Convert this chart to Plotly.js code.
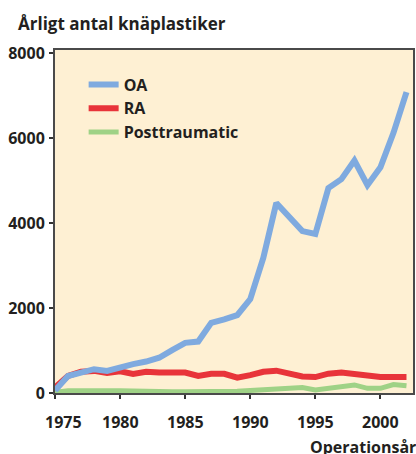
<!DOCTYPE html>
<html>
<head>
<meta charset="utf-8">
<script src="https://cdn.plot.ly/plotly-3.0.1.min.js"></script>
<style>html,body{margin:0;padding:0;background:#fff;}#chart{width:416px;height:454px;}</style>
</head>
<body>
<div id="chart"></div>
<script>
var years = [1975,1976,1977,1978,1979,1980,1981,1982,1983,1984,1985,1986,1987,1988,1989,1990,1991,1992,1993,1994,1995,1996,1997,1998,1999,2000,2001,2002];
var oaValues = [60,400,480,560,520,610,680,740,830,1010,1180,1210,1650,1730,1830,2210,3180,4470,4150,3810,3740,4820,5030,5470,4890,5310,6120,7080];
var raValues = [130,400,500,520,470,510,450,500,480,480,480,400,450,450,360,420,500,525,440,390,375,455,480,450,390,375,375,375];
var ptValues = [20,50,50,40,50,50,40,30,30,30,30,30,50,40,40,60,80,90,110,130,70,120,150,190,110,110,200,170];
var seriesNames = ['OA','RA','Posttraumatic'];
var xTickVals = [1975,1980,1985,1990,1995,2000];
var xTickText = ['1975','1980','1985','1990','1995','2000'];
var yTickVals = [0,2000,4000,6000,8000];
var chartTitle = 'Årligt antal knäplastiker';
var xTitle = 'Operationsår';

var xRange = [1975, 2002.5];
var yRange = [0, 8070];

var traces = [
  {x: years, y: ptValues, name: seriesNames[2], mode: 'lines', line: {color: '#9FD286', width: 5}, legendgroup: 'c'},
  {x: years, y: raValues, name: seriesNames[1], mode: 'lines', line: {color: '#E8343A', width: 6}, legendgroup: 'b'},
  {x: years, y: oaValues, name: seriesNames[0], mode: 'lines', line: {color: '#7FAADF', width: 6}, legendgroup: 'a', xaxis: 'x', yaxis: 'y2'}
];

var tickFont = {size: 16, weight: 700, color: '#231F20'};

var xLabelAnnotations = xTickVals.map(function (v, i) {
  return {text: xTickText[i], x: v, xref: 'x', y: 0, yref: 'paper', yanchor: 'middle', xanchor: 'center',
          yshift: -29, xshift: i === 0 ? 8 : 0, showarrow: false, font: tickFont};
});

var layout = {
  width: 416, height: 454,
  margin: {l: 55, r: 3, t: 50, b: 61, pad: 0},
  paper_bgcolor: '#ffffff',
  plot_bgcolor: '#FEF0D3',
  font: {family: 'Open Sans, sans-serif', color: '#231F20', size: 16, weight: 700},
  title: {text: chartTitle, x: 18/416, xanchor: 'left', xref: 'container', y: 1 - 24/454, yanchor: 'middle', yref: 'container', font: {size: 17, weight: 700, color: '#231F20'}},
  showlegend: true,
  legend: {x: 0.08, xanchor: 'left', y: 0.949, yanchor: 'top', bgcolor: 'rgba(0,0,0,0)', traceorder: 'reversed', tracegroupgap: 2, font: {size: 16, weight: 700, color: '#231F20'}},
  xaxis: {
    range: xRange, tickvals: xTickVals, showticklabels: false, showgrid: false, zeroline: false,
    showline: true, mirror: true, linecolor: '#4a4a4a', linewidth: 2,
    ticks: 'outside', ticklen: 4, tickwidth: 2, tickcolor: '#333'
  },
  yaxis: {
    range: yRange, tickvals: yTickVals, showticklabels: false, showgrid: false, zeroline: false,
    showline: true, mirror: true, linecolor: '#4a4a4a', linewidth: 2,
    ticks: 'outside', ticklen: 4, tickwidth: 2, tickcolor: '#333'
  },
  yaxis2: {
    range: yRange, overlaying: 'y', anchor: 'x', side: 'left', tickvals: yTickVals,
    showgrid: false, zeroline: false, showline: false,
    ticks: 'outside', ticklen: 6, tickwidth: 1, tickcolor: 'rgba(0,0,0,0)', tickfont: tickFont
  },
  annotations: xLabelAnnotations.concat([
    {text: xTitle, xref: 'paper', yref: 'paper', x: (308-55)/358, y: (393-447)/343, xanchor: 'left', yanchor: 'middle', showarrow: false, font: {size: 16, weight: 700, color: '#231F20'}}
  ])
};

Plotly.newPlot('chart', traces, layout, {displayModeBar: false, staticPlot: true});
</script>
</body>
</html>
